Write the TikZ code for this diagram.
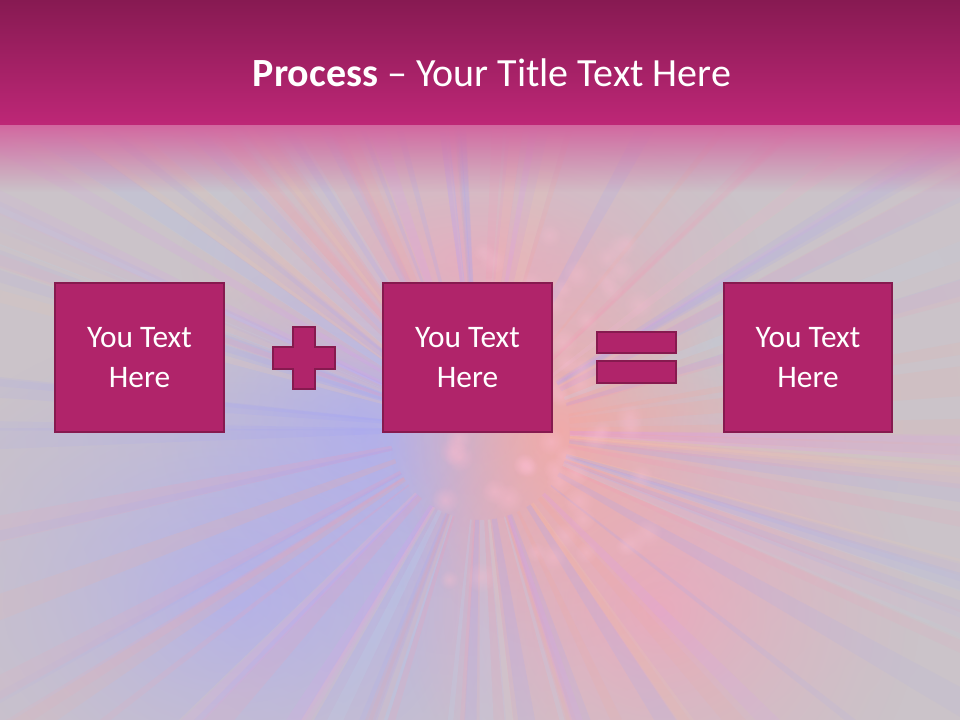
\documentclass[tikz,border=0pt]{standalone}
\usepackage{fontspec}
\setmainfont{Carlito}
\usetikzlibrary{fadings}
\definecolor{bggray}{HTML}{CBC3C9}
\definecolor{hdrtop}{HTML}{871A52}
\definecolor{hdrbot}{HTML}{BE2777}
\definecolor{boxfill}{HTML}{B0246A}
\definecolor{boxline}{HTML}{861A4F}
\definecolor{rayA}{HTML}{9A9CFF}
\definecolor{rayB}{HTML}{FF8FB0}
\definecolor{rayC}{HTML}{FFA090}
\definecolor{rayD}{HTML}{B0E0FF}
\definecolor{rayE}{HTML}{E090FF}
\definecolor{rayF}{HTML}{FFD0A0}
\definecolor{blobblue}{HTML}{A8A8FA}
\definecolor{blobpink}{HTML}{F8A0B8}
\definecolor{blobsalmon}{HTML}{FCA4A0}
\tikzfading[name=fadedown, top color=transparent!0, bottom color=transparent!100]
\tikzfading[name=softblob, inner color=transparent!0, outer color=transparent!100]
\tikzfading[name=edgefade, inner color=transparent!100, outer color=transparent!0]
\pgfmathdeclarerandomlist{raycols}{{rayA}{rayB}{rayC}{rayD}{rayE}{rayF}{rayA}{rayB}}
\tikzset{
  textbox/.style={draw=boxline, line width=1.5pt, fill=boxfill, text=white,
    minimum width=126.5pt, minimum height=111.5pt, align=center,
    font=\fontsize{23.5}{30.5}\selectfont, inner sep=0pt},
  sign/.style={draw=boxline, line width=1.5pt, fill=boxfill},
  titletext/.style={text=white, font=\fontsize{30}{36}\selectfont, inner sep=0pt}
}
\begin{document}
\begin{tikzpicture}[x=0.75pt,y=-0.75pt]
\useasboundingbox (0,0) rectangle (960,720);
\begin{scope}
\clip (0,0) rectangle (960,720);
% base
\fill[bggray] (0,0) rectangle (960,720);
% soft colour blobs
\fill[blobblue, path fading=softblob] (230,600) ellipse (360 and 280);
\fill[blobblue, opacity=0.7, path fading=softblob] (360,430) ellipse (200 and 180);
\fill[blobpink, path fading=softblob] (660,610) ellipse (260 and 250);
\fill[blobsalmon, opacity=0.8, path fading=softblob] (560,430) ellipse (170 and 220);
\fill[blobpink, opacity=0.75, path fading=softblob] (470,260) ellipse (290 and 150);
% rays
\pgfmathsetseed{11}
\foreach \i in {1,...,120}{
  \pgfmathsetmacro{\ang}{rnd*360}
  \pgfmathsetmacro{\w}{0.4+rnd*1.4}
  \pgfmathrandomitem{\c}{raycols}
  \fill[\c, opacity=0.2, shift={(480,430)}] (\ang-\w:90) -- (\ang-\w:760) -- (\ang+\w:760) -- (\ang+\w:90) -- cycle;
}
% bokeh dots
\pgfmathsetseed{5}
\foreach \i in {1,...,70}{
  \pgfmathsetmacro{\px}{430+rnd*220}
  \pgfmathsetmacro{\py}{230+rnd*350}
  \pgfmathsetmacro{\r}{10+rnd*6}
  \fill[rayB!60!white, opacity=0.45, path fading=softblob] (\px,\py) circle (\r);
}
% soften edges
\fill[bggray, opacity=0.75, path fading=edgefade] (-150,-80) rectangle (1110,940);
% header
\fill[top color=hdrtop, bottom color=hdrbot] (0,0) rectangle (960,126);
\fill[hdrbot!70!white, path fading=fadedown] (0,125) rectangle (960,192);
\end{scope}
% title
\node[titletext, anchor=base] (title) at (492,87) {\textbf{Process} – Your Title Text Here};
% boxes
\node[textbox] (b1) at (139.5,357.5) {You Text\\Here};
\node[textbox] (b2) at (467.5,357.5) {You Text\\Here};
\node[textbox] (b3) at (808,357.5) {You Text\\Here};
% plus
\path[sign] (293,327) -- (315,327) -- (315,347) -- (335,347) -- (335,369) -- (315,369)
  -- (315,389) -- (293,389) -- (293,369) -- (273,369) -- (273,347) -- (293,347) -- cycle;
% equals
\path[sign] (597,332) rectangle (676,353);
\path[sign] (597,361) rectangle (676,383);
\end{tikzpicture}
\end{document}
